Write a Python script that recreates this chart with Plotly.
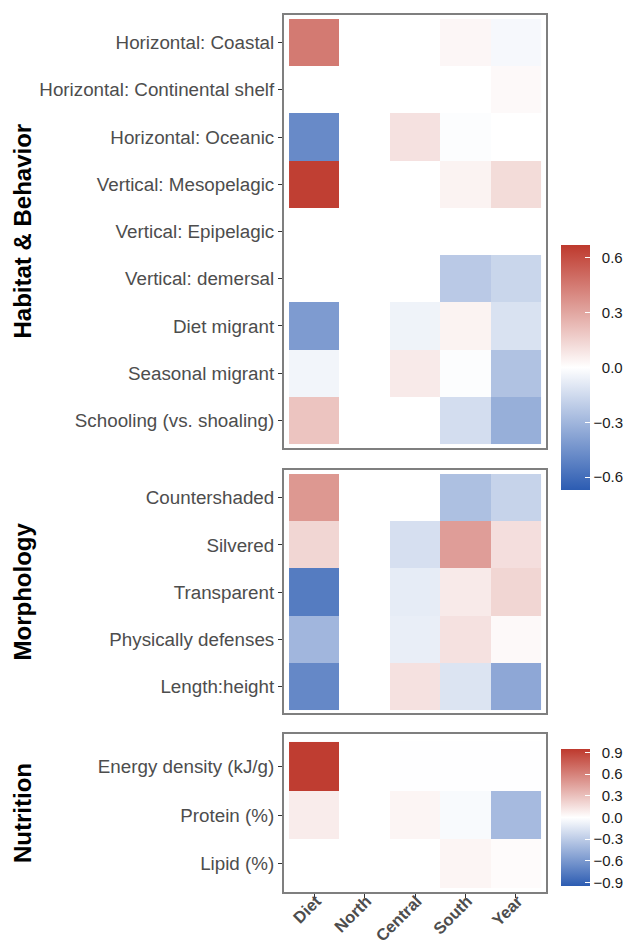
import plotly.graph_objects as go

# ---------------- data ----------------
columns = ["Diet", "North", "Central", "South", "Year"]

habitat_rows = ["Horizontal: Coastal", "Horizontal: Continental shelf", "Horizontal: Oceanic",
                "Vertical: Mesopelagic", "Vertical: Epipelagic", "Vertical: demersal",
                "Diet migrant", "Seasonal migrant", "Schooling (vs. shoaling)"]
habitat_vals = [
    [0.45, 0.0, 0.0, 0.03, -0.03],
    [0.0, 0.0, 0.0, 0.0, 0.02],
    [-0.48, 0.0, 0.10, -0.01, 0.0],
    [0.65, 0.0, 0.0, 0.04, 0.12],
    [0.0, 0.0, 0.0, 0.0, 0.0],
    [0.0, 0.0, 0.0, -0.22, -0.17],
    [-0.41, 0.0, -0.05, 0.04, -0.12],
    [-0.04, 0.0, 0.07, -0.01, -0.25],
    [0.20, 0.0, 0.0, -0.14, -0.33],
]

morph_rows = ["Countershaded", "Silvered", "Transparent", "Physically defenses", "Length:height"]
morph_vals = [
    [0.35, 0.0, 0.0, -0.26, -0.18],
    [0.14, 0.0, -0.13, 0.33, 0.11],
    [-0.54, 0.0, -0.08, 0.07, 0.14],
    [-0.30, 0.0, -0.07, 0.10, 0.02],
    [-0.49, 0.0, 0.10, -0.11, -0.36],
]

nutr_rows = ["Energy density (kJ/g)", "Protein (%)", "Lipid (%)"]
nutr_vals = [
    [0.93, 0.0, -0.005, -0.005, -0.005],
    [0.09, 0.0, 0.05, -0.03, -0.40],
    [0.0, 0.0, 0.0, 0.05, 0.02],
]

group_titles = ["Habitat & Behavior", "Morphology", "Nutrition"]
cb1_ticks = [-0.6, -0.3, 0.0, 0.3, 0.6]
cb2_ticks = [-0.9, -0.6, -0.3, 0.0, 0.3, 0.6, 0.9]

# ---------------- colour scale ----------------
LOW, MID, HIGH = "#2C5CB2", "#FFFFFF", "#BE392D"
colorscale = [[0.0, LOW], [0.5, MID], [1.0, HIGH]]

FONT = "Liberation Sans, Arial, sans-serif"


def fmt(v):
    s = f"{abs(v):.1f}"
    return ("\u2212" + s) if v < 0 else ("\u2007" + s)


# ---------------- layout geometry ----------------
W, H = 630, 945
x_dom = [284 / W, 546 / W]


def ydom(top, bottom):
    return [1 - bottom / H, 1 - top / H]


panels = [
    (habitat_rows, habitat_vals, ydom(15, 448), [8.585, -0.585], "coloraxis"),
    (morph_rows, morph_vals, ydom(470, 713), [4.553, -0.585], "coloraxis"),
    (nutr_rows, nutr_vals, ydom(734, 892), [2.582, -0.664], "coloraxis2"),
]

fig = go.Figure()
layout = dict(
    width=W, height=H,
    margin=dict(l=0, r=0, t=0, b=0, autoexpand=False),
    paper_bgcolor="white", plot_bgcolor="white",
    showlegend=False,
    font=dict(family=FONT),
)

for i, (rows, vals, yd, yr, cax) in enumerate(panels):
    n = "" if i == 0 else str(i + 1)
    fig.add_trace(go.Heatmap(
        z=vals, x=list(range(len(columns))), y=list(range(len(rows))),
        coloraxis=cax, xaxis="x" + n, yaxis="y" + n,
    ))
    last = i == len(panels) - 1
    layout["xaxis" + n] = dict(
        domain=x_dom, range=[-0.6, 4.6], anchor="y" + n, automargin=False,
        tickvals=list(range(len(columns))), ticktext=columns,
        showticklabels=last, ticks="outside" if last else "",
        ticklen=4, tickcolor="#333333", tickwidth=1,
        tickangle=-45, ticklabelstandoff=-13, ticklabelshift=2,
        tickfont=dict(size=16.5, color="#4D4D4D", weight="bold", family=FONT),
        showgrid=False, zeroline=False,
        showline=True, mirror=True, linecolor="#7F7F7F", linewidth=2,
    )
    layout["yaxis" + n] = dict(
        domain=yd, range=yr, anchor="x" + n, automargin=False,
        tickvals=list(range(len(rows))), ticktext=rows,
        ticks="outside", ticklen=4, tickcolor="#333333", tickwidth=1,
        tickfont=dict(size=18.8, color="#4D4D4D", family=FONT),
        showgrid=False, zeroline=False,
        showline=True, mirror=True, linecolor="#7F7F7F", linewidth=2,
    )

layout["coloraxis"] = dict(
    colorscale=colorscale, cmin=-0.67, cmax=0.67,
    colorbar=dict(
        x=561 / W, xanchor="left", y=1 - 367.5 / H, yanchor="middle",
        len=245 / H, lenmode="fraction", thickness=29, thicknessmode="pixels",
        outlinewidth=0, tickvals=cb1_ticks, ticktext=[fmt(v) for v in cb1_ticks],
        ticks="inside", ticklen=5, tickcolor="white", tickwidth=1,
        tickfont=dict(size=15, color="#1A1A1A", family=FONT), xpad=0, ypad=0,
    ),
)
layout["coloraxis2"] = dict(
    colorscale=colorscale, cmin=-0.95, cmax=0.95,
    colorbar=dict(
        x=561 / W, xanchor="left", y=1 - 817.5 / H, yanchor="middle",
        len=137 / H, lenmode="fraction", thickness=29, thicknessmode="pixels",
        outlinewidth=0, tickvals=cb2_ticks, ticktext=[fmt(v) for v in cb2_ticks],
        ticks="inside", ticklen=5, tickcolor="white", tickwidth=1,
        tickfont=dict(size=15, color="#1A1A1A", family=FONT), xpad=0, ypad=0,
    ),
)

annotations = []
for title, (_, _, yd, _, _) in zip(group_titles, panels):
    annotations.append(dict(
        text=title, x=22 / W, y=(yd[0] + yd[1]) / 2, xref="paper", yref="paper",
        xanchor="center", yanchor="middle", textangle=-90, showarrow=False,
        font=dict(size=24, color="black", weight="bold", family=FONT),
    ))
layout["annotations"] = annotations

fig.update_layout(**layout)
fig.write_html("out.html", config={"displayModeBar": False},
               post_script="document.body.style.margin='0';")
